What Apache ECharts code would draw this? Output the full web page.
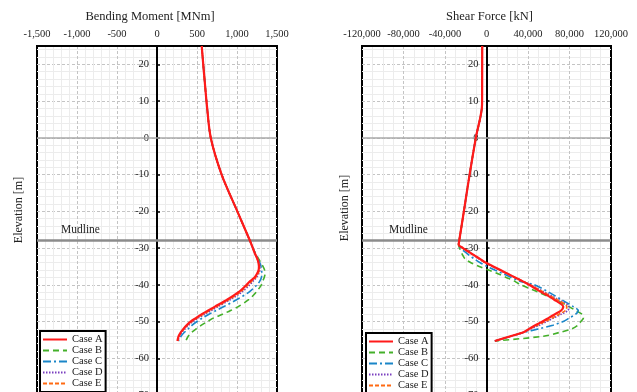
<!DOCTYPE html>
<html>
<head>
<meta charset="utf-8">
<script src="https://cdn.jsdelivr.net/npm/echarts@6/dist/echarts.min.js"></script>
<style>
	html, body { margin: 0; padding: 0; background: #fff; }
	#main { width: 637px; height: 392px; }
</style>
</head>
<body>
<div id="main"></div>
<script>
// elevation [m], shared by every case
var elevation = [25, 20, 15, 9, 0, -10, -20, -28, -29, -30, -31, -32, -33, -34, -35, -36, -37, -38, -39, -40, -42, -44, -46, -47, -48, -49, -50, -51, -52, -53, -54, -55.3];

// bending moment [MNm]
var momentA = [559, 578, 598, 623, 672, 808, 1004, 1162, 1180, 1198, 1215, 1235, 1255, 1268, 1274, 1270, 1250, 1220, 1165, 1120, 1020, 880, 720, 640, 560, 490, 420, 370, 330, 295, 270, 255];
var momentB = [559, 578, 598, 623, 672, 808, 1004, 1162, 1180, 1198, 1220, 1245, 1272, 1300, 1325, 1345, 1350, 1340, 1322, 1305, 1240, 1150, 1010, 920, 820, 710, 630, 555, 490, 430, 390, 360];
var momentC = [559, 578, 598, 623, 672, 808, 1004, 1162, 1180, 1198, 1218, 1240, 1262, 1285, 1300, 1308, 1310, 1305, 1285, 1250, 1150, 1000, 830, 740, 650, 570, 500, 440, 390, 340, 300, 270];
var momentD = [559, 578, 598, 623, 672, 808, 1004, 1162, 1180, 1198, 1216, 1236, 1258, 1275, 1285, 1285, 1272, 1245, 1200, 1160, 1060, 920, 760, 680, 600, 520, 450, 395, 350, 310, 282, 262];
var momentE = [559, 578, 598, 623, 672, 808, 1004, 1162, 1180, 1198, 1215, 1235, 1255, 1272, 1280, 1278, 1262, 1232, 1185, 1140, 1040, 900, 740, 660, 580, 505, 435, 380, 340, 302, 276, 258];

// shear force [kN]
var shearA = [-4100, -4150, -4200, -4300, -10300, -16300, -21800, -26300, -26800, -22700, -17100, -11600, -6000, -500, 6500, 13500, 20500, 27500, 34600, 41000, 53000, 65000, 74000, 72000, 66000, 60000, 54000, 47000, 41000, 35000, 23000, 8000];
var shearB = [-4100, -4150, -4200, -4300, -10300, -16300, -21800, -26300, -27000, -26000, -24500, -22800, -20500, -15000, -7000, 2000, 11000, 19000, 27000, 33000, 50000, 66000, 80000, 86000, 92000, 93500, 91000, 88000, 82000, 70000, 55000, 8000];
var shearC = [-4100, -4150, -4200, -4300, -10300, -16300, -21800, -26300, -27000, -25000, -21000, -16500, -11500, -6000, 500, 8000, 16000, 24000, 32000, 46000, 60000, 72000, 84000, 88500, 86000, 80000, 74000, 64000, 50000, 36000, 24000, 8000];
var shearD = [-4100, -4150, -4200, -4300, -10300, -16300, -21800, -26300, -27000, -23000, -18000, -12500, -7000, -1500, 5500, 12500, 20000, 27500, 35000, 42500, 56000, 69000, 79500, 78500, 72000, 65000, 58000, 51000, 43000, 35000, 24000, 8000];
var shearE = [-4100, -4150, -4200, -4300, -10300, -16300, -21800, -26300, -26900, -22900, -17500, -12000, -6500, -1000, 6000, 13000, 20200, 27500, 34800, 42000, 55000, 67500, 77500, 76000, 70000, 63500, 56500, 49000, 42000, 35000, 23500, 8000];

var caseNames = ['Case A', 'Case B', 'Case C', 'Case D', 'Case E'];
var momentTicks = [-1500, 1500, 500];
var shearTicks = [-120000, 120000, 40000];
var elevTicks = [-70, 25, 10];
var mudline = -28;

var serif = "'Liberation Serif', 'DejaVu Serif', serif";
var caseStyle = [
	{ color: '#ff1a1a', width: 2.2, type: 'solid', z: 10 },
	{ color: '#44b02a', width: 1.6, type: [6, 4], z: 6 },
	{ color: '#1a86c8', width: 1.6, type: [8, 3, 2, 3], z: 7 },
	{ color: '#7a3fbf', width: 1.6, type: [1.5, 1.5], z: 8 },
	{ color: '#ff6a13', width: 1.6, type: [4, 2], z: 9 }
];

function pairs(vals) {
	var out = [];
	for (var i = 0; i < vals.length; i++) {
		out.push([vals[i], elevation[i]]);
	}
	return out;
}

function xAxisFor(grid, name, ticks, namePad) {
	return {
		type : 'value',
		gridIndex : grid,
		position : 'top',
		min : ticks[0],
		max : ticks[1],
		interval : ticks[2],
		name : name,
		nameLocation : 'middle',
		nameGap : 23,
		nameTextStyle : { fontFamily : serif, fontSize : 12.5, color : '#222', padding : namePad },
		axisLine : { show : true, onZero : false, lineStyle : { color : '#000', width : 2 } },
		axisTick : { show : false },
		axisLabel : {
			margin : 6,
			fontFamily : serif,
			fontSize : 10.5,
			color : '#222',
			formatter : function(v) { return v.toLocaleString('en-US'); }
		},
		splitLine : { show : true, showMinLine : false, showMaxLine : false, lineStyle : { color : '#c4c4c4', type : [3, 2], width : 1 } },
		minorTick : { show : false, splitNumber : ticks === shearTicks ? 4 : 5 },
		minorSplitLine : { show : true, lineStyle : { color : '#ececec', width : 1 } }
	};
}

function yAxisFor(grid) {
	return {
		type : 'value',
		gridIndex : grid,
		position : 'left',
		offset : 0,
		min : elevTicks[0],
		max : elevTicks[1],
		interval : elevTicks[2],
		axisLine : { show : true, onZero : false, lineStyle : { color : '#000', width : 2 } },
		axisTick : { show : true, inside : true, length : 3, lineStyle : { color : '#000', width : 1.5 } },
		axisLabel : { margin : 8, fontFamily : serif, fontSize : 10.5, color : '#222', showMaxLabel : false },
		splitLine : { show : true, showMaxLine : false, lineStyle : { color : '#c4c4c4', type : [3, 2], width : 1 } },
		minorTick : { show : false, splitNumber : 5 },
		minorSplitLine : { show : true, lineStyle : { color : '#ececec', width : 1 } }
	};
}

function refLines(labelShift) {
	return {
		silent : true,
		symbol : 'none',
		animation : false,
		data : [ {
			yAxis : 0,
			label : { show : false },
			lineStyle : { color : '#a8a8a8', width : 1.5, type : 'solid' }
		}, {
			yAxis : mudline,
			label : {
				show : true,
				formatter : 'Mudline',
				position : 'insideStartTop',
				distance : [labelShift, 5],
				fontFamily : serif,
				fontSize : 11.5,
				color : '#222'
			},
			lineStyle : { color : '#8c8c8c', width : 2.5, type : 'solid' }
		} ]
	};
}

var series = [];
var moments = [momentA, momentB, momentC, momentD, momentE];
var shears = [shearA, shearB, shearC, shearD, shearE];
for (var g = 0; g < 2; g++) {
	var src = g === 0 ? moments : shears;
	for (var k = 0; k < caseNames.length; k++) {
		var st = caseStyle[k];
		var s = {
			name : caseNames[k],
			type : 'line',
			xAxisIndex : g,
			yAxisIndex : g,
			data : pairs(src[k]),
			showSymbol : false,
			symbol : 'none',
			smooth : 0.3,
			z : st.z,
			animation : false,
			color : st.color,
			lineStyle : { color : st.color, width : st.width, type : st.type }
		};
		if (k === 0) {
			s.markLine = refLines(g === 0 ? 24 : 27);
		}
		series.push(s);
	}
}

function legendAt(left, top) {
	return {
		orient : 'vertical',
		left : left,
		top : top,
		height : 90,
		data : caseNames,
		itemWidth : 24,
		itemHeight : 9,
		itemGap : 0,
		padding : [3, 3, 3, 2],
		backgroundColor : '#fff',
		borderColor : '#000',
		borderWidth : 2,
		borderRadius : 0,
		itemStyle : { color : 'rgba(0,0,0,0)', borderWidth : 0 },
		textStyle : { fontFamily : serif, fontSize : 10.5, color : '#222', lineHeight : 10 }
	};
}

var mychart = echarts.init(document.getElementById('main'), null, { renderer : 'canvas' });
var option = {
	backgroundColor : '#fff',
	animation : false,
	grid : [
		{ left : 37, right : 360, top : 46, bottom : -3, outerBoundsMode : 'none', show : true, borderColor : '#000', borderWidth : 2 },
		{ left : 362, right : 26, top : 46, bottom : -3, outerBoundsMode : 'none', show : true, borderColor : '#000', borderWidth : 2 }
	],
	xAxis : [
		xAxisFor(0, 'Bending Moment [MNm]', momentTicks, [0, 14, 0, 0]),
		xAxisFor(1, 'Shear Force [kN]', shearTicks, [0, 0, 0, 6])
	],
	yAxis : [ yAxisFor(0), yAxisFor(1) ],
	legend : [ legendAt(40, 331), legendAt(366, 333) ],
	graphic : [
		{ type : 'text', x : 19, y : 210, rotation : Math.PI / 2,
			style : { text : 'Elevation [m]', fontFamily : serif, fontSize : 12, fill : '#222', align : 'center', verticalAlign : 'middle' } },
		{ type : 'text', x : 345, y : 208, rotation : Math.PI / 2,
			style : { text : 'Elevation [m]', fontFamily : serif, fontSize : 12, fill : '#222', align : 'center', verticalAlign : 'middle' } }
	],
	series : series
};
mychart.setOption(option);

// move each elevation axis onto x = 0 of its own grid
var gridLefts = [option.grid[0].left, option.grid[1].left];
var shifted = [];
for (var j = 0; j < 2; j++) {
	var px = mychart.convertToPixel({ xAxisIndex : j }, 0);
	shifted.push({ offset : -(px - gridLefts[j]) });
}
mychart.setOption({ yAxis : shifted });
</script>
</body>
</html>
